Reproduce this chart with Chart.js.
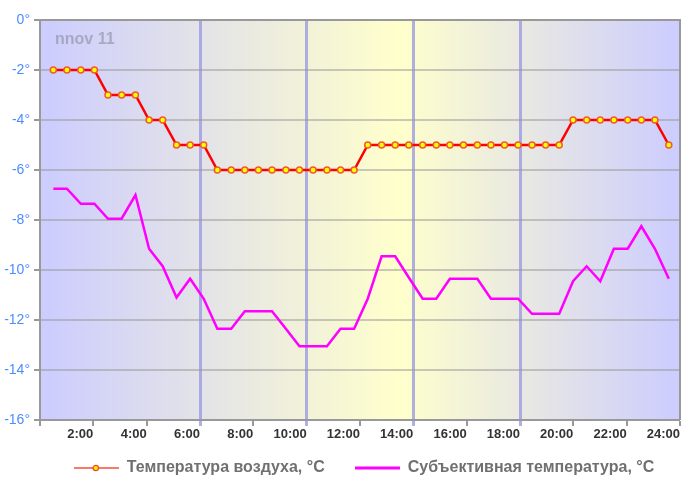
<!DOCTYPE html>
<html>
<head>
<meta charset="utf-8">
<script src="https://cdn.jsdelivr.net/npm/chart.js@4.4.1/dist/chart.umd.min.js"></script>
<style>
  html, body { margin: 0; padding: 0; background: #fff; }
  #wrap { width: 687px; height: 487px; }
</style>
</head>
<body>
<div id="wrap"><canvas id="myChart" width="687" height="487"></canvas></div>
<script>
const hours = [
    0.50, 1.01, 1.53, 2.04, 2.55, 3.06, 3.58, 4.09, 4.60, 5.12,
    5.63, 6.14, 6.65, 7.17, 7.68, 8.19, 8.70, 9.22, 9.73, 10.24,
    10.76, 11.27, 11.78, 12.29, 12.81, 13.32, 13.83, 14.35, 14.86, 15.37,
    15.88, 16.40, 16.91, 17.42, 17.93, 18.45, 18.96, 19.47, 19.99, 20.50,
    21.01, 21.52, 22.04, 22.55, 23.06, 23.58
];

// air temperature, °C
const airTemp = [
    -2, -2, -2, -2, -3, -3, -3, -4, -4, -5,
    -5, -5, -6, -6, -6, -6, -6, -6, -6, -6,
    -6, -6, -6, -5, -5, -5, -5, -5, -5, -5,
    -5, -5, -5, -5, -5, -5, -5, -5, -4, -4,
    -4, -4, -4, -4, -4, -5
];

// feels-like temperature, °C
const feelTemp = [
    -6.75, -6.75, -7.35, -7.35, -7.95, -7.95, -7.0, -9.15, -9.85, -11.1,
    -10.35, -11.15, -12.35, -12.35, -11.65, -11.65, -11.65, -12.35, -13.05, -13.05,
    -13.05, -12.35, -12.35, -11.15, -9.45, -9.45, -10.3, -11.15, -11.15, -10.35,
    -10.35, -10.35, -11.15, -11.15, -11.15, -11.75, -11.75, -11.75, -10.45, -9.85,
    -10.45, -9.15, -9.15, -8.25, -9.15, -10.35
];

const dividerHours = [6, 10, 14, 18];
const seriesNames = ["Температура воздуха, °C", "Субъективная температура, °C"];
const watermark = "nnov 11";

const FONT = "'Liberation Sans', Arial, sans-serif";

// legend swatches (line with optional marker)
function makeSwatch(color, width, withDot) {
    const c = document.createElement("canvas");
    c.width = 45;
    c.height = 10;
    const g = c.getContext("2d");
    g.strokeStyle = color;
    g.lineWidth = width;
    g.beginPath();
    g.moveTo(0, 5);
    g.lineTo(45, 5);
    g.stroke();
    if (withDot) {
        g.fillStyle = "#ffff00";
        g.strokeStyle = "#f03c20";
        g.lineWidth = 1.2;
        g.beginPath();
        g.arc(22, 5, 2.6, 0, Math.PI * 2);
        g.fill();
        g.stroke();
    }
    return c;
}

const bgPlugin = {
    id: "bg",
    beforeDraw(chart) {
        const { ctx, chartArea: a } = chart;
        const grad = ctx.createLinearGradient(a.left, 0, a.right, 0);
        grad.addColorStop(0, "#ccccff");
        grad.addColorStop(0.56, "#ffffcc");
        grad.addColorStop(1, "#ccccff");
        ctx.save();
        ctx.fillStyle = grad;
        ctx.fillRect(a.left, a.top, a.right - a.left, a.bottom - a.top);
        ctx.restore();
    },
    beforeDatasetsDraw(chart) {
        const { ctx, chartArea: a } = chart;
        ctx.save();
        ctx.strokeStyle = "#999999";
        ctx.lineWidth = 2;
        ctx.beginPath();
        ctx.moveTo(a.left, a.top);
        ctx.lineTo(a.right, a.top);
        ctx.lineTo(a.right, a.bottom);
        ctx.stroke();
        ctx.fillStyle = "rgba(150,150,170,0.7)";
        ctx.font = "bold 16px " + FONT;
        ctx.textBaseline = "middle";
        ctx.fillText(watermark, a.left + 15, a.top + 20);
        ctx.restore();
    }
};

// nudge the legend row up/right so the item gap can stay wide
const legendNudge = {
    id: "legendNudge",
    afterLayout(chart) {
        const lg = chart.legend;
        lg.top -= 15;
        lg.bottom -= 15;
        lg.left += 24;
        lg.right += 24;
    }
};

new Chart(document.getElementById("myChart"), {
    type: "line",
    data: {
        datasets: [
            {
                label: seriesNames[0],
                data: hours.map((h, i) => ({ x: h, y: airTemp[i] })),
                borderColor: "#ff0000",
                borderWidth: 2.5,
                pointRadius: 3,
                pointBackgroundColor: "#ffff00",
                pointBorderColor: "#f05a30",
                pointBorderWidth: 1.5,
                tension: 0,
                order: 1,
            },
            {
                label: seriesNames[1],
                data: hours.map((h, i) => ({ x: h, y: feelTemp[i] })),
                borderColor: "#ff00ff",
                borderWidth: 2.5,
                pointRadius: 0,
                tension: 0,
                order: 2,
            },
        ],
    },
    options: {
        responsive: false,
        animation: false,
        layout: { padding: { top: 20, right: 7, left: 0, bottom: -14 } },
        plugins: {
            tooltip: { enabled: false },
            legend: {
                position: "bottom",
                labels: {
                    usePointStyle: true,
                    pointStyleWidth: 45,
                    padding: 30,
                    color: "#707070",
                    font: { family: FONT, size: 16, weight: "bold" },
                    generateLabels(chart) {
                        return chart.data.datasets.map((ds, i) => ({
                            text: ds.label,
                            datasetIndex: i,
                            pointStyle: i === 0
                                ? makeSwatch("#f87a6a", 2, true)
                                : makeSwatch("#ff00ff", 3, false),
                            fontColor: "#707070",
                            lineWidth: 0,
                            hidden: false,
                        }));
                    },
                },
            },
        },
        scales: {
            x: {
                type: "linear",
                min: 0,
                max: 24,
                afterFit(scale) { scale.height = 25; },
                ticks: {
                    stepSize: 2,
                    align: "end",
                    padding: 1,
                    color: "#333333",
                    font: { family: FONT, size: 13, weight: "bold" },
                    callback: (v) => (v === 0 ? "" : v + ":00"),
                },
                grid: {
                    drawOnChartArea: true,
                    tickLength: 6,
                    color: (c) => (dividerHours.includes(c.tick && c.tick.value) ? "rgba(150,150,225,0.75)" : "rgba(0,0,0,0)"),
                    lineWidth: (c) => (dividerHours.includes(c.tick && c.tick.value) ? 3 : 0),
                    tickColor: (c) => (dividerHours.includes(c.tick && c.tick.value) ? "rgba(150,150,225,0.75)" : "#999999"),
                    tickWidth: (c) => (dividerHours.includes(c.tick && c.tick.value) ? 3 : 2),
                },
                border: { display: true, color: "#999999", width: 2 },
            },
            y: {
                min: -16,
                max: 0,
                afterFit(scale) { scale.width = 40; },
                ticks: {
                    stepSize: 2,
                    padding: 4,
                    color: "#4d8cff",
                    font: { family: FONT, size: 14 },
                    callback: (v) => v + "°",
                },
                grid: {
                    color: "rgba(150,150,150,0.5)",
                    lineWidth: 2,
                    tickLength: 6,
                    tickColor: "#999999",
                },
                border: { display: true, color: "#999999", width: 2 },
            },
        },
    },
    plugins: [bgPlugin, legendNudge],
});
</script>
</body>
</html>
